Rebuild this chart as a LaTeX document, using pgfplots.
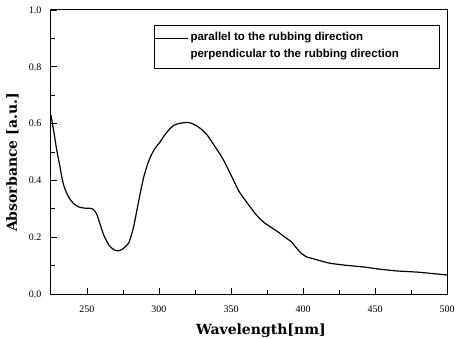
\documentclass[border=0pt]{standalone}
\usepackage{pgfplots}
\pgfplotsset{compat=1.18}
\usepackage{fontspec}
\setmainfont{Liberation Serif}
\newfontfamily\labfont{DejaVu Serif}
\newfontfamily\legfont{Liberation Sans}
\pgfplotstableread{
x y
225 0.630
227 0.57
229 0.506
231 0.455
232.5 0.412
234 0.38
236 0.354
238 0.335
240.6 0.319
243 0.31
245.2 0.305
249 0.302
253.4 0.301
255.5 0.292
257 0.278
258.7 0.252
260.4 0.225
262 0.203
263.9 0.184
265.5 0.170
267.4 0.161
269 0.155
270.8 0.152
272.5 0.153
274.3 0.157
276.5 0.166
279 0.180
280.7 0.205
282.4 0.237
284.2 0.283
286 0.330
287.7 0.373
289.4 0.412
291.8 0.453
294 0.482
296.4 0.506
298.6 0.522
301 0.537
303.3 0.555
305.7 0.571
308 0.584
310.3 0.594
313.5 0.600
317.3 0.603
320 0.604
322 0.602
325.5 0.594
329 0.582
333.6 0.559
338.2 0.524
341.7 0.498
345.2 0.468
349.9 0.420
352.8 0.389
355.7 0.360
361.5 0.319
367.3 0.280
373.1 0.251
377.8 0.235
382.5 0.219
387 0.202
391.8 0.184
395.3 0.163
398.8 0.143
402.8 0.130
405.8 0.126
412.7 0.116
419 0.108
430 0.101
442.3 0.095
454 0.087
465.6 0.081
479.5 0.077
490 0.072
500 0.067
}\parallel
\begin{document}
\begin{tikzpicture}
\begin{axis}[
  scale only axis, width=396pt, height=284pt,
  xmin=225, xmax=500, ymin=0, ymax=1,
  xtick={250,300,350,400,450,500}, ytick={0,0.2,0.4,0.6,0.8,1.0},
  minor x tick num=1, minor y tick num=1,
  tick align=inside, xtick pos=bottom, ytick pos=left,
  major tick length=6pt, minor tick length=4pt,
  axis line style={line width=1pt},
  every tick/.style={black, line width=0.8pt},
  ticklabel style={font=\fontsize{10}{11}\selectfont},
  /pgf/number format/assume math mode=true,
  yticklabel style={xshift=-6pt, /pgf/number format/fixed, /pgf/number format/fixed zerofill, /pgf/number format/precision=1},
  xticklabel style={yshift=-8pt, /pgf/number format/1000 sep={}},
  xlabel={Wavelength[nm]}, ylabel={Absorbance [a.u.]},
  label style={font=\labfont\bfseries\fontsize{14}{16}\selectfont},
  xlabel style={at={(axis description cs:0.53,-0.13)}, anchor=center},
  ylabel style={at={(axis description cs:-0.097,0.463)}, anchor=center},
  legend style={at={(axis description cs:0.26,0.947)}, anchor=north west,
    draw=black, line width=0.8pt,
    font=\legfont\bfseries\fontsize{11.5}{12}\selectfont,
    inner xsep=0pt, inner ysep=6.5pt, row sep=4pt,
    nodes={inner ysep=1pt, text height=8pt, text depth=3pt}},
  legend cell align=left,
  legend image code/.code={\draw[line width=1.2pt] (-3pt,0pt) -- (30pt,0pt);},
]
\coordinate (ll) at (rel axis cs:0,0);
\coordinate (ur) at (rel axis cs:1,1);
\addplot[black, line width=1.2pt, smooth, tension=0.3] table[x=x,y=y] {\parallel};
\addlegendentry{\makebox[247pt][l]{parallel to the rubbing direction}}
\addlegendimage{empty legend}
\addlegendentry{\makebox[247pt][l]{perpendicular to the rubbing direction}}
\end{axis}
\pgfresetboundingbox
\path ([shift={(-51pt,-44pt)}]ll) rectangle ([shift={(11pt,10pt)}]ur);
\end{tikzpicture}
\end{document}
